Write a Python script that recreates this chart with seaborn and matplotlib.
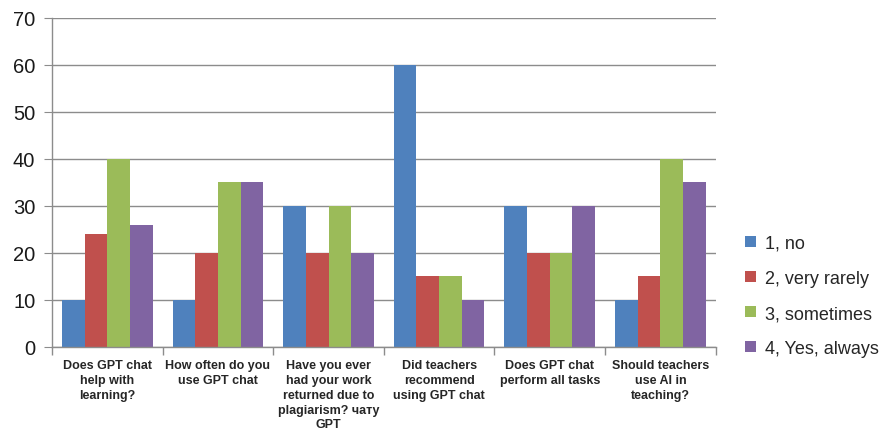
import matplotlib

matplotlib.use("Agg")

import matplotlib.pyplot as plt
import numpy as np
import pandas as pd
import seaborn as sns
from matplotlib.ticker import FixedLocator

questions = [
    "Does GPT chat\nhelp with\nlearning?",
    "How often do you\nuse GPT chat",
    "Have you ever\nhad your work\nreturned due to\nplagiarism? чату\nGPT",
    "Did teachers\nrecommend\nusing GPT chat",
    "Does GPT chat\nperform all tasks",
    "Should teachers\nuse AI in\nteaching?",
]
answers = ["1, no", "2, very rarely", "3, sometimes", "4, Yes, always"]
no_vals = [10, 10, 30, 60, 30, 10]
rarely_vals = [24, 20, 20, 15, 20, 15]
sometimes_vals = [40, 35, 30, 15, 20, 40]
always_vals = [26, 35, 20, 10, 30, 35]
colors = ["#4F81BD", "#C0504D", "#9BBB59", "#8064A2"]

rows = []
for ans, vals in zip(answers, [no_vals, rarely_vals, sometimes_vals, always_vals]):
    for q, v in zip(questions, vals):
        rows.append({"question": q, "answer": ans, "value": v})
df = pd.DataFrame(rows)

sns.set_style("white")
plt.rcParams["font.family"] = ["Liberation Sans", "DejaVu Sans"]
plt.rcParams["xtick.bottom"] = True
plt.rcParams["ytick.left"] = True

fig = plt.figure(figsize=(8.89, 4.31), dpi=100)
ax = fig.add_axes([0.0585, 0.1926, 0.7465, 0.7634])
sns.barplot(data=df, x="question", y="value", hue="answer", palette=colors,
            width=0.82, saturation=1, ax=ax, legend=True)
for p in ax.patches:
    p.set_linewidth(0)

ax.set_ylim(0, 70)
ax.set_xlim(-0.5, 5.5)
ax.set_yticks(np.arange(0, 71, 10))
ax.yaxis.grid(True, color="#8c8c8c", linewidth=1)
ax.set_axisbelow(True)
for side in ["top", "right"]:
    ax.spines[side].set_visible(False)
for side in ["left", "bottom"]:
    ax.spines[side].set_color("#8c8c8c")
    ax.spines[side].set_linewidth(1)
ax.tick_params(axis="y", length=6, color="#8c8c8c", labelsize=14.5, pad=6,
               left=True, labelcolor="#1a1a1a")
ax.tick_params(axis="x", which="major", length=0, labelsize=9, pad=9)
ax.xaxis.set_minor_locator(FixedLocator(np.arange(-0.5, 6, 1)))
ax.tick_params(axis="x", which="minor", length=6, width=1, color="#8c8c8c",
               bottom=True, direction="out")
for lbl in ax.get_xticklabels():
    lbl.set_fontweight("bold")
    lbl.set_linespacing(1.3)
ax.set_xlabel("")
ax.set_ylabel("")

handles, labels = ax.get_legend_handles_labels()
ax.legend(handles, labels, loc="upper left", bbox_to_anchor=(1.02, 0.39),
          frameon=False, fontsize=13, handlelength=0.6, handleheight=0.6,
          labelspacing=1.0, handletextpad=0.5)

fig.savefig("out.png", dpi=100)
